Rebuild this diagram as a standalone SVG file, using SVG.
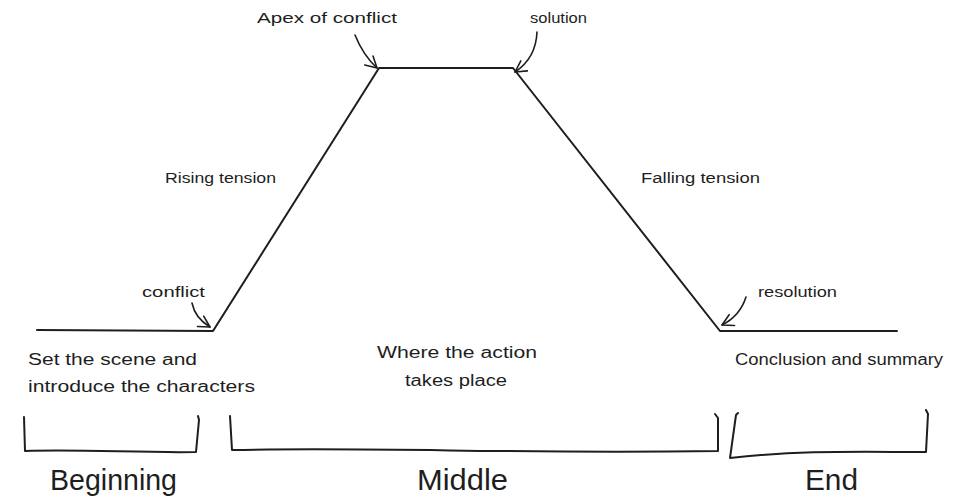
<svg xmlns="http://www.w3.org/2000/svg" width="967" height="502" viewBox="0 0 967 502">
<defs>
<style>
.ln{fill:none;stroke:#1e1e1e;stroke-width:2;stroke-linecap:round;stroke-linejoin:round}
.ar{fill:none;stroke:#1e1e1e;stroke-width:1.6;stroke-linecap:round;marker-end:url(#head)}
.s{font-family:"Liberation Sans",Arial,sans-serif;font-size:14px;fill:#1e1e1e}
.m{font-family:"Liberation Sans",Arial,sans-serif;font-size:16px;fill:#1e1e1e}
.b{font-family:"Liberation Sans",Arial,sans-serif;font-size:30px;fill:#1e1e1e}
</style>
<marker id="head" viewBox="-12 -8 14 16" markerWidth="14" markerHeight="16" refX="0" refY="0" orient="auto" markerUnits="userSpaceOnUse">
<path d="M-11,-6 L0,0 L-11,6" fill="none" stroke="#1e1e1e" stroke-width="1.6" stroke-linecap="round" stroke-linejoin="round"/>
</marker>
</defs>
<rect width="967" height="502" fill="#ffffff"/>
<g id="connectors">
<path id="curve" class="ln" d="M37,330 L213,331 L379,68 L513,68 L720,331 L897,331"/>
<path id="arrow-conflict" class="ar" d="M192,303 Q195,318 210,327"/>
<path id="arrow-apex" class="ar" d="M355,35 Q363,55 377,68"/>
<path id="arrow-solution" class="ar" d="M537,32 Q536,58 515,72"/>
<path id="arrow-resolution" class="ar" d="M746,297 Q740,316 722,325"/>
</g>
<g id="brackets">
<path id="bracket-beginning" class="ln" d="M24,417 L25,451 C80,449 140,453 196,452 L199,420 L198,416"/>
<path id="bracket-middle" class="ln" d="M230,416 L232,450 C400,447 500,454 718,451 L718,418 L715,414"/>
<path id="bracket-end" class="ln" d="M738,413 L736,415 L730,458 C800,450 860,452 926,452 L928,414 L926,410"/>
</g>
<g id="label-apex"><text class="s" x="257" y="23" textLength="140" lengthAdjust="spacingAndGlyphs">Apex of conflict</text></g>
<g id="label-solution"><text class="s" x="530" y="23" textLength="57" lengthAdjust="spacingAndGlyphs">solution</text></g>
<g id="label-rising"><text class="s" x="165" y="183" textLength="111" lengthAdjust="spacingAndGlyphs">Rising tension</text></g>
<g id="label-falling"><text class="s" x="641" y="183" textLength="119" lengthAdjust="spacingAndGlyphs">Falling tension</text></g>
<g id="label-conflict"><text class="s" x="142" y="297" textLength="63" lengthAdjust="spacingAndGlyphs">conflict</text></g>
<g id="label-resolution"><text class="s" x="758" y="297" textLength="79" lengthAdjust="spacingAndGlyphs">resolution</text></g>
<g id="desc-beginning">
<text class="m" x="28" y="365" textLength="169" lengthAdjust="spacingAndGlyphs">Set the scene and</text>
<text class="m" x="28" y="392" textLength="227" lengthAdjust="spacingAndGlyphs">introduce the characters</text>
</g>
<g id="desc-middle">
<text class="m" x="377" y="358" textLength="160" lengthAdjust="spacingAndGlyphs">Where the action</text>
<text class="m" x="405" y="386" textLength="102" lengthAdjust="spacingAndGlyphs">takes place</text>
</g>
<g id="desc-end"><text class="m" x="735" y="365" textLength="208" lengthAdjust="spacingAndGlyphs">Conclusion and summary</text></g>
<g id="title-beginning"><text class="b" x="50" y="490" textLength="127" lengthAdjust="spacingAndGlyphs">Beginning</text></g>
<g id="title-middle"><text class="b" x="417" y="490" textLength="91" lengthAdjust="spacingAndGlyphs">Middle</text></g>
<g id="title-end"><text class="b" x="805" y="490" textLength="53" lengthAdjust="spacingAndGlyphs">End</text></g>
</svg>
